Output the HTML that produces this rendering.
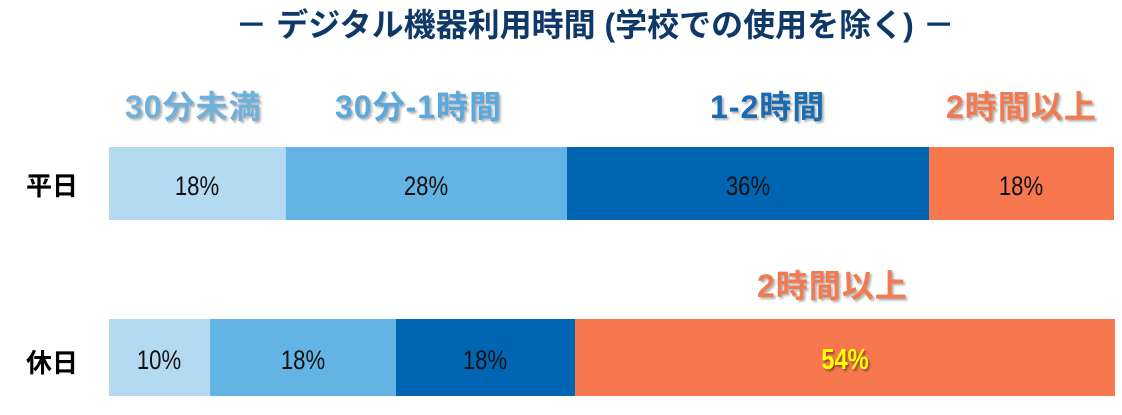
<!DOCTYPE html>
<html><head><meta charset="utf-8"><style>
body{margin:0;width:1122px;height:415px;background:#fff;position:relative;overflow:hidden;font-family:"Liberation Sans","Noto Sans CJK JP",sans-serif}
.a{position:absolute;white-space:nowrap}
.t{left:0;width:1190px;text-align:center;top:4px;font-size:32px;font-weight:bold;color:#0e3868;line-height:42px}
.lab{font-size:32px;font-weight:bold;line-height:36px;letter-spacing:1px;text-shadow:2px 2px 2px rgba(0,0,0,.3)}
.rl{font-size:26px;font-weight:bold;color:#000;left:26px}
.s{position:absolute;display:flex;align-items:center;justify-content:center;font-size:27px;color:#111;padding-top:6px;box-sizing:border-box}
.s span{display:inline-block;transform:scaleX(.82)}
</style></head><body>
<div class="a t">－ デジタル機器利用時間 (学校での使用を除く) －</div>
<div class="a lab" style="left:125px;top:89px;color:#6fb0dc">30分未満</div>
<div class="a lab" style="left:335px;top:89px;color:#5aa8dc">30分-1時間</div>
<div class="a lab" style="left:710px;top:89px;color:#1a6bb0">1-2時間</div>
<div class="a lab" style="left:946px;top:89px;color:#f07a52">2時間以上</div>
<div class="a lab" style="left:757px;top:268px;color:#f07a52">2時間以上</div>
<div class="a rl" style="top:166px">平日</div>
<div class="a rl" style="top:343px">休日</div>
<div class="s" style="left:109px;top:147px;width:177px;height:73px;background:#b4daf1"><span>18%</span></div>
<div class="s" style="left:286px;top:147px;width:281px;height:73px;background:#63b4e5"><span>28%</span></div>
<div class="s" style="left:567px;top:147px;width:362px;height:73px;background:#0066b3"><span>36%</span></div>
<div class="s" style="left:929px;top:147px;width:185px;height:73px;background:#f7774f"><span>18%</span></div>
<div class="s" style="left:109px;top:319px;width:101px;height:77px;background:#b4daf1"><span>10%</span></div>
<div class="s" style="left:210px;top:319px;width:186px;height:77px;background:#63b4e5"><span>18%</span></div>
<div class="s" style="left:396px;top:319px;width:179px;height:77px;background:#0066b3"><span>18%</span></div>
<div class="s" style="left:575px;top:319px;width:540px;height:77px;background:#f7774f"><span style="color:#ffff00;font-weight:bold;text-shadow:2px 2px 2px rgba(0,0,0,.4);font-size:29px">54%</span></div>
</body></html>
